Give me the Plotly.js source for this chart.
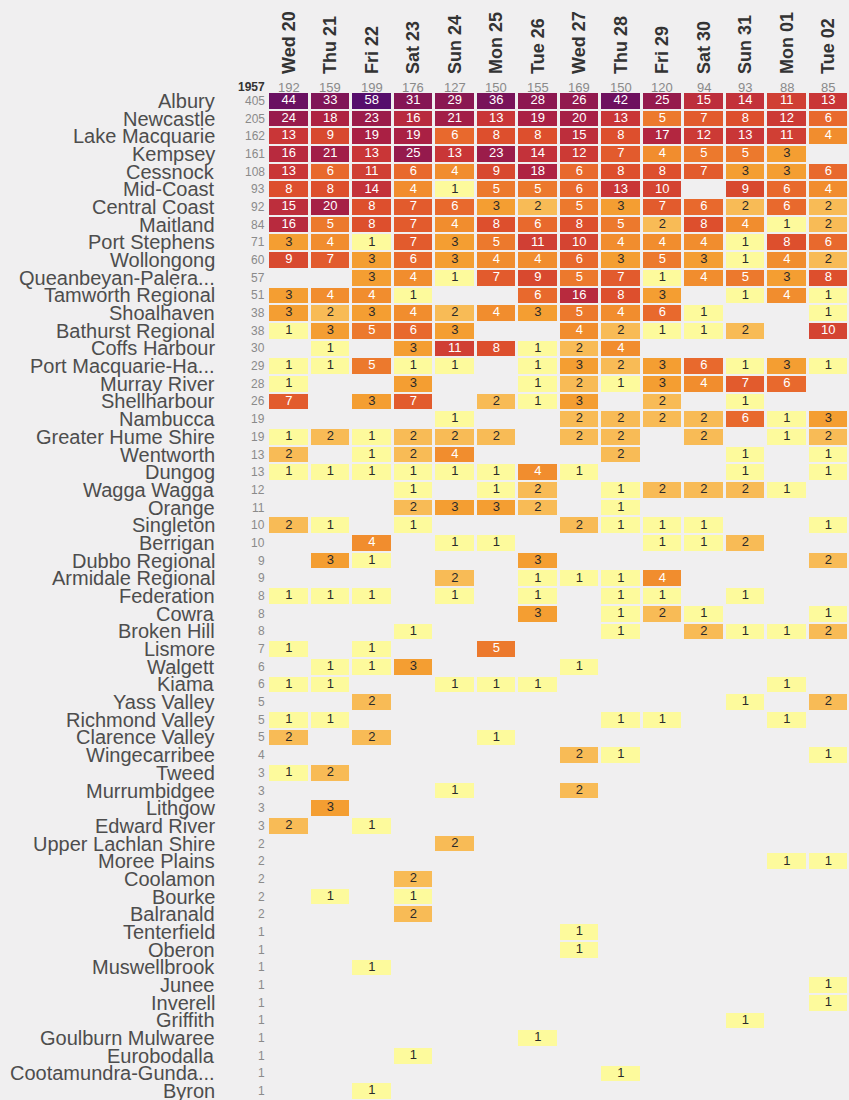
<!DOCTYPE html>
<html><head><meta charset="utf-8">
<script src="https://cdn.plot.ly/plotly-3.0.1.min.js"></script>
<style>html,body{margin:0;padding:0;background:#f0eff0;overflow:hidden}</style>
</head><body><div id="chart" style="width:849px;height:1100px"></div>
<script>
const days = ['Wed 20','Thu 21','Fri 22','Sat 23','Sun 24','Mon 25','Tue 26','Wed 27','Thu 28','Fri 29','Sat 30','Sun 31','Mon 01','Tue 02'];

const regions = ['Albury','Newcastle','Lake Macquarie','Kempsey','Cessnock','Mid-Coast','Central Coast','Maitland',
'Port Stephens','Wollongong','Queanbeyan-Palera...','Tamworth Regional','Shoalhaven','Bathurst Regional','Coffs Harbour',
'Port Macquarie-Ha...','Murray River','Shellharbour','Nambucca','Greater Hume Shire','Wentworth','Dungog','Wagga Wagga',
'Orange','Singleton','Berrigan','Dubbo Regional','Armidale Regional','Federation','Cowra','Broken Hill','Lismore','Walgett',
'Kiama','Yass Valley','Richmond Valley','Clarence Valley','Wingecarribee','Tweed','Murrumbidgee','Lithgow','Edward River',
'Upper Lachlan Shire','Moree Plains','Coolamon','Bourke','Balranald','Tenterfield','Oberon','Muswellbrook','Junee','Inverell',
'Griffith','Goulburn Mulwaree','Eurobodalla','Cootamundra-Gunda...','Byron'];

const n = null;
const counts = [
[44,33,58,31,29,36,28,26,42,25,15,14,11,13],
[24,18,23,16,21,13,19,20,13,5,7,8,12,6],
[13,9,19,19,6,8,8,15,8,17,12,13,11,4],
[16,21,13,25,13,23,14,12,7,4,5,5,3,n],
[13,6,11,6,4,9,18,6,8,8,7,3,3,6],
[8,8,14,4,1,5,5,6,13,10,n,9,6,4],
[15,20,8,7,6,3,2,5,3,7,6,2,6,2],
[16,5,8,7,4,8,6,8,5,2,8,4,1,2],
[3,4,1,7,3,5,11,10,4,4,4,1,8,6],
[9,7,3,6,3,4,4,6,3,5,3,1,4,2],
[n,n,3,4,1,7,9,5,7,1,4,5,3,8],
[3,4,4,1,n,n,6,16,8,3,n,1,4,1],
[3,2,3,4,2,4,3,5,4,6,1,n,n,1],
[1,3,5,6,3,n,n,4,2,1,1,2,n,10],
[n,1,n,3,11,8,1,2,4,n,n,n,n,n],
[1,1,5,1,1,n,1,3,2,3,6,1,3,1],
[1,n,n,3,n,n,1,2,1,3,4,7,6,n],
[7,n,3,7,n,2,1,3,n,2,n,1,n,n],
[n,n,n,n,1,n,n,2,2,2,2,6,1,3],
[1,2,1,2,2,2,n,2,2,n,2,n,1,2],
[2,n,1,2,4,n,n,n,2,n,n,1,n,1],
[1,1,1,1,1,1,4,1,n,n,n,1,n,1],
[n,n,n,1,n,1,2,n,1,2,2,2,1,n],
[n,n,n,2,3,3,2,n,1,n,n,n,n,n],
[2,1,n,1,n,n,n,2,1,1,1,n,n,1],
[n,n,4,n,1,1,n,n,n,1,1,2,n,n],
[n,3,1,n,n,n,3,n,n,n,n,n,n,2],
[n,n,n,n,2,n,1,1,1,4,n,n,n,n],
[1,1,1,n,1,n,1,n,1,1,n,1,n,n],
[n,n,n,n,n,n,3,n,1,2,1,n,n,1],
[n,n,n,1,n,n,n,n,1,n,2,1,1,2],
[1,n,1,n,n,5,n,n,n,n,n,n,n,n],
[n,1,1,3,n,n,n,1,n,n,n,n,n,n],
[1,1,n,n,1,1,1,n,n,n,n,n,1,n],
[n,n,2,n,n,n,n,n,n,n,n,1,n,2],
[1,1,n,n,n,n,n,n,1,1,n,n,1,n],
[2,n,2,n,n,1,n,n,n,n,n,n,n,n],
[n,n,n,n,n,n,n,2,1,n,n,n,n,1],
[1,2,n,n,n,n,n,n,n,n,n,n,n,n],
[n,n,n,n,1,n,n,2,n,n,n,n,n,n],
[n,3,n,n,n,n,n,n,n,n,n,n,n,n],
[2,n,1,n,n,n,n,n,n,n,n,n,n,n],
[n,n,n,n,2,n,n,n,n,n,n,n,n,n],
[n,n,n,n,n,n,n,n,n,n,n,n,1,1],
[n,n,n,2,n,n,n,n,n,n,n,n,n,n],
[n,1,n,1,n,n,n,n,n,n,n,n,n,n],
[n,n,n,2,n,n,n,n,n,n,n,n,n,n],
[n,n,n,n,n,n,n,1,n,n,n,n,n,n],
[n,n,n,n,n,n,n,1,n,n,n,n,n,n],
[n,n,1,n,n,n,n,n,n,n,n,n,n,n],
[n,n,n,n,n,n,n,n,n,n,n,n,n,1],
[n,n,n,n,n,n,n,n,n,n,n,n,n,1],
[n,n,n,n,n,n,n,n,n,n,n,1,n,n],
[n,n,n,n,n,n,1,n,n,n,n,n,n,n],
[n,n,n,1,n,n,n,n,n,n,n,n,n,n],
[n,n,n,n,n,n,n,n,1,n,n,n,n,n],
[n,n,1,n,n,n,n,n,n,n,n,n,n,n]
];

const rowTotals = counts.map(r => r.reduce((a, v) => a + (v || 0), 0));
const colTotals = days.map((d, j) => counts.reduce((a, r) => a + (r[j] || 0), 0));
const grandTotal = rowTotals.reduce((a, v) => a + v, 0);
const maxVal = Math.max(...counts.flat().filter(v => v != null));

const zLog = counts.map(r => r.map(v => v == null ? null : Math.log(v)));

const colorscale = [
  [0.000, '#fdfa9c'],
  [0.171, '#f8bb56'],
  [0.271, '#f49e32'],
  [0.341, '#f18d2e'],
  [0.441, '#e8692d'],
  [0.512, '#dd4f2d'],
  [0.632, '#c93637'],
  [0.725, '#aa2044'],
  [0.829, '#8a1752'],
  [0.932, '#6a1061'],
  [1.000, '#560d6c']
];

const tx = [], ty = [], tt = [], tc = [];
counts.forEach((r, i) => r.forEach((v, j) => {
  if (v != null) { tx.push(j); ty.push(i); tt.push(String(v)); tc.push(v >= 4 ? '#ffffff' : '#2a2a2a'); }
}));

const font = 'Liberation Sans, Arial, sans-serif';

const heat = {
  type: 'heatmap', x: days.map((d, j) => j), y: regions.map((r, i) => i), z: zLog,
  zmin: 0, zmax: Math.log(maxVal), colorscale: colorscale, showscale: false,
  xgap: 3, ygap: 2, hoverinfo: 'skip'
};
const labels = {
  type: 'scatter', mode: 'text', x: tx, y: ty, text: tt,
  textfont: { family: font, size: 13, color: tc }, hoverinfo: 'skip', cliponaxis: false
};

const annotations = [];
regions.forEach((name, i) => annotations.push({
  xref: 'paper', x: 0, xanchor: 'right', xshift: -51, yref: 'y', y: i, yanchor: 'middle',
  text: name, showarrow: false, font: { family: font, size: 20, color: '#4d4d4d' }
}));
rowTotals.forEach((t, i) => annotations.push({
  xref: 'paper', x: 0, xanchor: 'right', xshift: -1, yref: 'y', y: i, yanchor: 'middle',
  text: String(t), showarrow: false, font: { family: font, size: 12, color: '#8a8a8a' }
}));
colTotals.forEach((t, j) => annotations.push({
  xref: 'x', x: j, xanchor: 'center', yref: 'paper', y: 1, yanchor: 'middle', yshift: 5,
  text: String(t), showarrow: false, font: { family: font, size: 13, color: '#8a8a8a' }
}));
annotations.push({
  xref: 'paper', x: 0, xanchor: 'right', xshift: -1, yref: 'paper', y: 1, yanchor: 'middle', yshift: 5,
  text: '<b>' + grandTotal + '</b>', showarrow: false, font: { family: font, size: 12, color: '#333333' }
});

const layout = {
  width: 849, height: 1100,
  margin: { l: 268, r: 0, t: 92, b: 0, pad: 0 },
  paper_bgcolor: '#f0eff0', plot_bgcolor: '#f0eff0',
  showlegend: false,
  font: { family: font },
  xaxis: {
    side: 'top', range: [-0.5, days.length - 0.5], tickmode: 'array',
    tickvals: days.map((d, j) => j), ticktext: days, tickangle: -90,
    tickfont: { family: font, size: 18, color: '#333333', weight: 'bold' },
    showgrid: false, zeroline: false, showline: false, ticks: '', ticklabelstandoff: 17, fixedrange: true
  },
  yaxis: {
    range: [regions.length - 0.5, -0.5], showticklabels: false,
    showgrid: false, zeroline: false, showline: false, ticks: '', fixedrange: true
  },
  annotations: annotations
};

Plotly.newPlot('chart', [heat, labels], layout, { staticPlot: true, displayModeBar: false });
</script></body></html>
